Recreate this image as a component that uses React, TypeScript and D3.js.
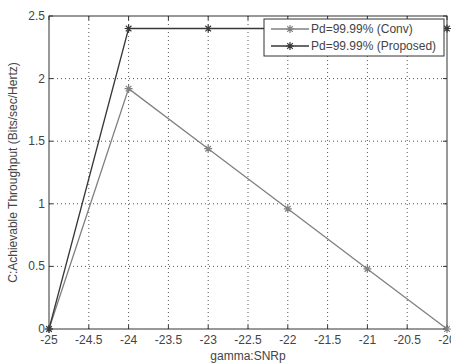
import * as d3 from 'd3';
import { useEffect, useRef } from 'react';

const snr = [-25, -24, -23, -22, -21, -20];
const convThroughput = [0, 1.92, 1.44, 0.96, 0.48, 0];
const proposedThroughput = [0, 2.4, 2.4, 2.4, 2.4, 2.4];
const xTicks = [-25, -24.5, -24, -23.5, -23, -22.5, -22, -21.5, -21, -20.5, -20];
const yTicks = [0, 0.5, 1, 1.5, 2, 2.5];
const seriesNames = ['Pd=99.99% (Conv)', 'Pd=99.99% (Proposed)'];

export default function App() {
  const ref = useRef<SVGSVGElement | null>(null);

  useEffect(() => {
    const width = 451;
    const height = 363;
    const margin = { top: 16, right: 4, bottom: 34, left: 49 };
    const svg = d3.select(ref.current);
    svg.selectAll('*').remove();
    svg.attr('width', width).attr('height', height);
    svg.append('rect').attr('width', width).attr('height', height).attr('fill', '#fff');

    const x = d3.scaleLinear().domain([-25, -20]).range([margin.left, width - margin.right]);
    const y = d3.scaleLinear().domain([0, 2.5]).range([height - margin.bottom, margin.top]);
    const font = 'Liberation Sans, Arial, sans-serif';
    const textColor = '#444';

    // grid
    xTicks.slice(1, -1).forEach((t) => {
      svg.append('line').attr('x1', x(t)).attr('x2', x(t)).attr('y1', y(0)).attr('y2', y(2.5))
        .attr('stroke', '#555').attr('stroke-dasharray', '1,3');
    });
    yTicks.slice(1, -1).forEach((t) => {
      svg.append('line').attr('x1', x(-25)).attr('x2', x(-20)).attr('y1', y(t)).attr('y2', y(t))
        .attr('stroke', '#555').attr('stroke-dasharray', '1,3');
    });

    // box + inward ticks
    svg.append('rect').attr('x', x(-25)).attr('y', y(2.5)).attr('width', x(-20) - x(-25)).attr('height', y(0) - y(2.5))
      .attr('fill', 'none').attr('stroke', '#333');
    xTicks.forEach((t) => {
      svg.append('line').attr('x1', x(t)).attr('x2', x(t)).attr('y1', y(0)).attr('y2', y(0) - 4).attr('stroke', '#333');
      svg.append('line').attr('x1', x(t)).attr('x2', x(t)).attr('y1', y(2.5)).attr('y2', y(2.5) + 4).attr('stroke', '#333');
      svg.append('text').attr('x', x(t)).attr('y', y(0) + 15).attr('text-anchor', 'middle')
        .attr('font-family', font).attr('font-size', 12).attr('fill', textColor).text(String(t));
    });
    yTicks.forEach((t) => {
      svg.append('line').attr('x1', x(-25)).attr('x2', x(-25) + 4).attr('y1', y(t)).attr('y2', y(t)).attr('stroke', '#333');
      svg.append('line').attr('x1', x(-20)).attr('x2', x(-20) - 4).attr('y1', y(t)).attr('y2', y(t)).attr('stroke', '#333');
      svg.append('text').attr('x', x(-25) - 4).attr('y', y(t) + 4).attr('text-anchor', 'end')
        .attr('font-family', font).attr('font-size', 12).attr('fill', textColor).text(String(t));
    });

    svg.append('text').attr('x', (x(-25) + x(-20)) / 2).attr('y', 360).attr('text-anchor', 'middle')
      .attr('font-family', font).attr('font-size', 12).attr('fill', textColor).text('gamma:SNRp');
    svg.append('text').attr('transform', `translate(17,${(y(0) + y(2.5)) / 2}) rotate(-90)`).attr('text-anchor', 'middle')
      .attr('font-family', font).attr('font-size', 12).attr('fill', textColor).text('C:Achievable Throughput (Bits/sec/Hertz)');

    const star = (g: d3.Selection<SVGGElement, unknown, null, undefined>, cx: number, cy: number, color: string) => {
      const r = 4;
      g.append('path')
        .attr('d', `M${cx - r},${cy}H${cx + r}M${cx},${cy - r}V${cy + r}M${cx - r * 0.7},${cy - r * 0.7}L${cx + r * 0.7},${cy + r * 0.7}M${cx - r * 0.7},${cy + r * 0.7}L${cx + r * 0.7},${cy - r * 0.7}`)
        .attr('stroke', color).attr('stroke-width', 1.2);
    };

    const line = d3.line<number>().x((_, i) => x(snr[i])).y((d) => y(d));
    const series = [
      { values: convThroughput, color: '#808080' },
      { values: proposedThroughput, color: '#383838' },
    ];
    series.forEach((s) => {
      svg.append('path').datum(s.values).attr('d', line).attr('fill', 'none').attr('stroke', s.color).attr('stroke-width', 1.3);
      const g = svg.append('g');
      s.values.forEach((v, i) => star(g, x(snr[i]), y(v), s.color));
    });

    // legend
    const lg = svg.append('g');
    lg.append('rect').attr('x', 264).attr('y', 19).attr('width', 180).attr('height', 37)
      .attr('fill', '#fff').attr('stroke', '#333');
    seriesNames.forEach((name, i) => {
      const cy = 29 + i * 17;
      const color = series[i].color;
      lg.append('line').attr('x1', 271).attr('x2', 309).attr('y1', cy).attr('y2', cy).attr('stroke', color).attr('stroke-width', 1.3);
      star(lg, 290, cy, color);
      lg.append('text').attr('x', 311).attr('y', cy + 4).attr('font-family', font).attr('font-size', 12)
        .attr('fill', textColor).text(name);
    });
  }, []);

  return <svg ref={ref} style={{ position: 'absolute', left: 0, top: 0 }} />;
}
